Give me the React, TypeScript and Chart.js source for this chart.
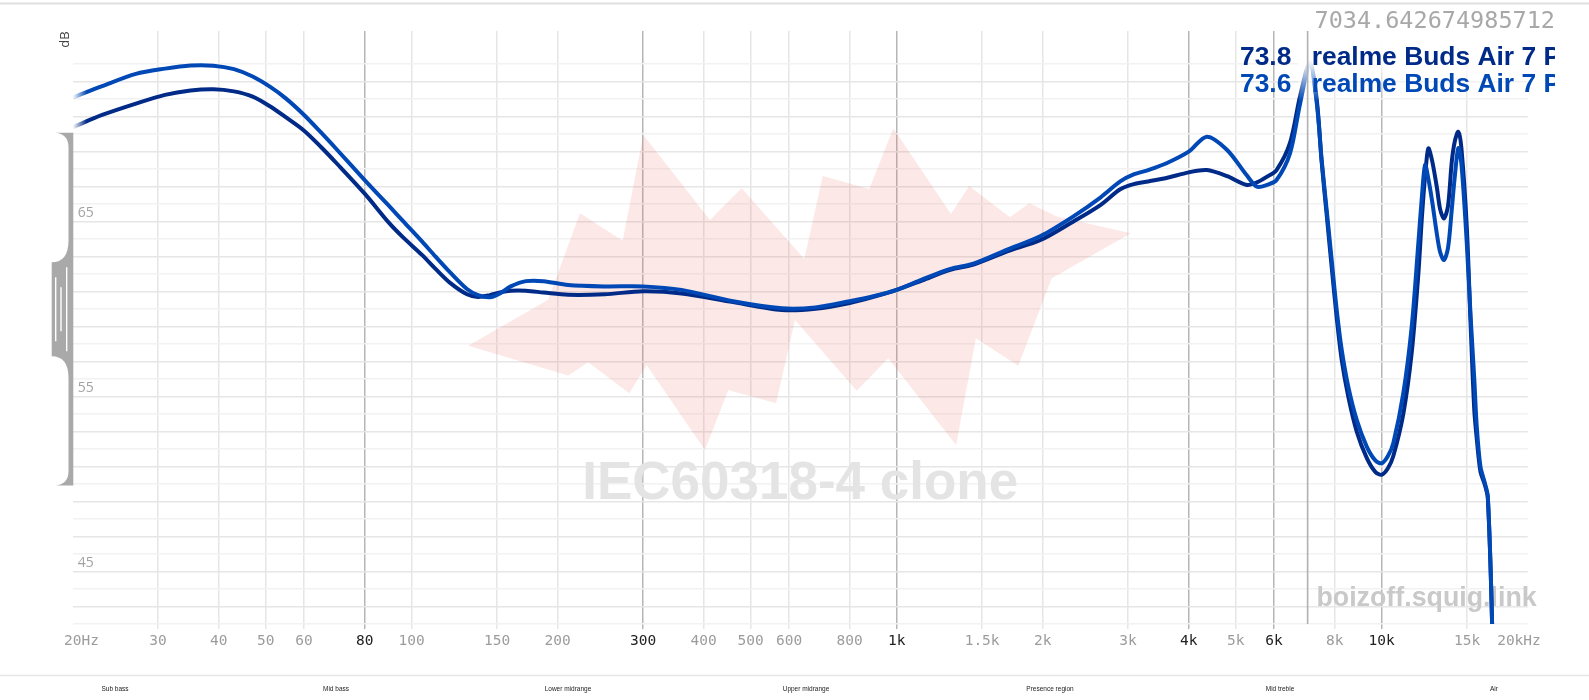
import { useEffect, useRef } from 'react';
import { Chart, registerables } from 'chart.js';

Chart.register(...registerables);

// ---- data ----
const FREQS = [
  20, 23, 27, 31, 35, 39, 43, 47, 51, 55,
  60, 65, 70, 80, 90, 96, 105, 112, 120, 130,
  137, 145, 152, 160, 172, 187, 210, 250, 300, 360,
  460, 580, 680, 800, 900, 1000, 1130, 1290, 1440, 1690,
  1980, 2310, 2630, 2890, 3080, 3300, 3600, 4000, 4360, 4800,
  5270, 5530, 5800, 6070, 6470, 6790, 7110, 7345, 7520, 7701,
  7886, 8077, 8271, 8533, 8882, 9314, 9700, 10000, 10300, 10566,
  11079, 11531, 11900, 12100, 12288, 12480, 12700, 12987, 13200, 13441,
  13700, 13944, 14150, 14386, 14600, 14977, 15258, 15520, 15703, 15980,
  16300, 16550, 16890, 17000,
];
const DARK_DB = [
  70.4, 71.1, 71.75, 72.25, 72.5, 72.57, 72.45, 72.15, 71.6, 70.97,
  70.2, 69.27, 68.34, 66.6, 64.9, 64.1, 63.1, 62.3, 61.5, 60.85,
  60.7, 60.8, 60.95, 61.05, 61.05, 60.95, 60.82, 60.85, 61.02, 60.9,
  60.4, 59.95, 60.02, 60.35, 60.72, 61.1, 61.65, 62.25, 62.55, 63.3,
  63.95, 65.0, 65.95, 66.85, 67.15, 67.3, 67.5, 67.82, 67.95, 67.6,
  67.1, 67.25, 67.57, 67.95, 69.5, 72.2, 74.1, 72.0, 68.4, 65.4,
  62.4, 59.5, 57.1, 55.0, 53.0, 51.5, 50.7, 50.53, 50.9, 51.6,
  54.0, 57.5, 62.0, 65.2, 67.6, 69.19, 68.5, 67.0, 65.7, 65.19,
  65.9, 68.4, 69.6, 70.14, 69.2, 64.71, 59.0, 54.24, 52.6, 50.71,
  50.0, 49.2, 42.0, 36,
];
const LIGHT_DB = [
  72.1, 72.75, 73.45, 73.75, 73.93, 73.92, 73.72, 73.3, 72.72, 72.05,
  71.1, 70.1, 69.14, 67.38, 65.87, 65.03, 63.87, 63.0, 62.1, 61.15,
  60.8, 60.68, 60.9, 61.3, 61.6, 61.6, 61.38, 61.3, 61.3, 61.1,
  60.45, 60.05, 60.1, 60.45, 60.75, 61.1, 61.7, 62.3, 62.6, 63.4,
  64.18, 65.29, 66.38, 67.3, 67.7, 67.95, 68.34, 69.0, 69.86, 69.1,
  67.65, 67.0, 67.1, 67.38, 68.9, 71.77, 74.0, 71.8, 68.53, 65.67,
  62.81, 59.95, 57.67, 55.57, 53.67, 52.14, 51.35, 51.19, 51.6, 52.34,
  55.19, 59.0, 63.77, 66.4, 68.24, 67.45, 66.2, 64.34, 63.25, 62.81,
  63.5, 65.67, 67.6, 69.2, 68.3, 63.77, 59.5, 56.0, 53.29, 51.0,
  50.1, 49.3, 42.05, 36,
];

const SERIES_LEVELS = ['73.8', '73.6'];
const SERIES_NAMES = ['realme Buds Air 7 Pro', 'realme Buds Air 7 Pro'];
const DARK = '#002a87';
const LIGHT = '#0048b5';

const X_TICKS = [20, 30, 40, 50, 60, 80, 100, 150, 200, 300, 400, 500, 600, 800, 1000, 1500, 2000, 3000, 4000, 5000, 6000, 8000, 10000, 15000, 20000];
const X_LABELS = ['20Hz', '30', '40', '50', '60', '80', '100', '150', '200', '300', '400', '500', '600', '800', '1k', '1.5k', '2k', '3k', '4k', '5k', '6k', '8k', '10k', '15k', '20kHz'];
const X_MAJOR = [80, 300, 1000, 4000, 6000, 10000];

const Y_GRID = [42, 43, 44, 45, 46, 47, 48, 49, 50, 51, 52, 53, 54, 55, 56, 57, 58, 59, 60, 61, 62, 63, 64, 65, 66, 67, 68, 69, 70, 71, 72, 73, 74];
const Y_LABELED = [45, 55, 65];

const CURSOR_FREQ = 7034.642674985712;

// watermark polygon (frequency, dB)
const WM_FREQ = [130.8, 191.2, 222.3, 272.3, 300.3, 412.1, 479.0, 645.0, 703.9, 878.1, 984.0, 1294, 1410, 1712, 1877, 2138, 3038, 2087, 1781, 1456, 1326, 960.6, 827.3, 617.1, 563.8, 449.5, 402.4, 305.1, 281.0, 231.2, 210.3];
const WM_DB = [57.91, 60.53, 65.48, 63.91, 69.95, 65.10, 66.91, 62.87, 67.61, 66.87, 70.34, 65.44, 67.04, 65.25, 66.05, 65.29, 64.34, 61.77, 56.77, 58.34, 52.24, 57.19, 55.34, 59.38, 54.62, 55.38, 51.95, 56.81, 55.19, 56.97, 56.20];

const BANDS = ['Sub bass', 'Mid bass', 'Lower midrange', 'Upper midrange', 'Presence region', 'Mid treble', 'Air'];
const BAND_CENTERS = [115, 336, 568, 806, 1050, 1280, 1494];

function rgba(hex: string, a: number) {
  const n = parseInt(hex.slice(1), 16);
  return `rgba(${(n >> 16) & 255},${(n >> 8) & 255},${n & 255},${a})`;
}

const fadeStroke = (color: string) => (c: any) => {
  const chart = c.chart;
  const a = chart.chartArea;
  if (!a) return color;
  const g = chart.ctx.createLinearGradient(a.left, 0, a.left + 14, 0);
  g.addColorStop(0, rgba(color, 0));
  g.addColorStop(1, color);
  return g;
};

const decor = {
  id: 'decor',
  beforeDatasetsDraw(chart: any) {
    const { ctx, chartArea: a, scales } = chart;
    const x = scales.x, y = scales.y;
    ctx.save();
    ctx.beginPath();
    ctx.rect(a.left, a.top, a.right - a.left, a.bottom - a.top);
    ctx.clip();
    ctx.beginPath();
    WM_FREQ.forEach((f, i) => {
      const px = x.getPixelForValue(f);
      const py = y.getPixelForValue(WM_DB[i]);
      if (i) ctx.lineTo(px, py); else ctx.moveTo(px, py);
    });
    ctx.closePath();
    ctx.fillStyle = 'rgba(235,100,90,0.15)';
    ctx.fill();

    ctx.textBaseline = 'alphabetic';
    ctx.font = 'bold 53px "Liberation Sans", Arial, sans-serif';
    ctx.fillStyle = '#e4e4e4';
    ctx.textAlign = 'center';
    ctx.fillText('IEC60318-4 clone', (a.left + a.right) / 2, 499);
    ctx.restore();

    ctx.save();
    ctx.font = 'bold 26.8px "Liberation Sans", Arial, sans-serif';
    ctx.fillStyle = '#c9c9c9';
    ctx.textAlign = 'right';
    ctx.textBaseline = 'alphabetic';
    ctx.fillText('boizoff.squig.link', a.right + 9, 606);
    ctx.restore();
  },
  afterDatasetsDraw(chart: any) {
    const { ctx, chartArea: a, scales } = chart;
    const x = scales.x, y = scales.y;
    ctx.save();

    // white fade behind labels
    const gx = 1298;
    const g = ctx.createLinearGradient(0, a.top, 0, 101);
    g.addColorStop(0, 'rgba(255,255,255,1)');
    g.addColorStop(0.45, 'rgba(255,255,255,0.95)');
    g.addColorStop(1, 'rgba(255,255,255,0)');
    ctx.fillStyle = g;
    ctx.fillRect(gx, a.top, 1560 - gx, 101 - a.top);

    // cursor line
    const cx = x.getPixelForValue(CURSOR_FREQ);
    ctx.strokeStyle = '#b0b0b0';
    ctx.lineWidth = 1.6;
    ctx.beginPath();
    ctx.moveTo(cx, a.top);
    ctx.lineTo(cx, a.bottom);
    ctx.stroke();

    // frequency readout
    ctx.font = '23.5px "DejaVu Sans Mono", monospace';
    ctx.fillStyle = '#a8a8a8';
    ctx.textAlign = 'right';
    ctx.textBaseline = 'alphabetic';
    ctx.fillText(String(CURSOR_FREQ), 1555, 28);

    // series labels
    ctx.save();
    ctx.beginPath();
    ctx.rect(0, 0, 1555, 700);
    ctx.clip();
    ctx.font = 'bold 26.4px "Liberation Sans", Arial, sans-serif';
    ctx.textAlign = 'left';
    const colors = [DARK, LIGHT];
    SERIES_LEVELS.forEach((lvl, i) => {
      const by = 64.5 + i * 27.3;
      ctx.fillStyle = colors[i];
      ctx.fillText(lvl, 1240, by);
      ctx.fillText(SERIES_NAMES[i], 1311.7, by);
    });
    ctx.restore();

    // y-scale handle (bracket)
    const T = y.getPixelForValue(70);
    const B = y.getPixelForValue(50);
    const M = y.getPixelForValue(60);
    const R = a.left + 0.6;
    const S = a.left - 4.2;
    const H = a.left - 17;
    const W = a.left - 21;
    ctx.fillStyle = '#a9a9a9';
    ctx.beginPath();
    ctx.moveTo(H, T - 1.5);
    ctx.lineTo(R, T - 1.5);
    ctx.lineTo(R, B + 1.5);
    ctx.lineTo(H, B + 1.5);
    ctx.quadraticCurveTo(S, B, S, B - 13);
    ctx.lineTo(S, M + 69);
    ctx.quadraticCurveTo(S, M + 47, W, M + 47);
    ctx.lineTo(W, M - 47);
    ctx.quadraticCurveTo(S, M - 47, S, M - 69);
    ctx.lineTo(S, T + 13);
    ctx.quadraticCurveTo(S, T, H, T - 1.5);
    ctx.closePath();
    ctx.fill();
    ctx.strokeStyle = '#ffffff';
    ctx.lineWidth = 1.4;
    const grips: [number, number][] = [[a.left - 17, 32], [a.left - 11.7, 22], [a.left - 6, 42]];
    grips.forEach(([gxp, h]) => {
      ctx.beginPath();
      ctx.moveTo(gxp, M - h);
      ctx.lineTo(gxp, M + h);
      ctx.stroke();
    });

    // dB label
    ctx.save();
    ctx.translate(65.5, 39.5);
    ctx.rotate(-Math.PI / 2);
    ctx.font = '13px "Open Sans", sans-serif';
    ctx.fillStyle = '#444';
    ctx.textAlign = 'center';
    ctx.textBaseline = 'middle';
    ctx.fillText('dB', 0, 0);
    ctx.restore();

    ctx.restore();
  },
  afterDraw(chart: any) {
    const { ctx, width } = chart;
    ctx.save();
    ctx.strokeStyle = '#e0e0e0';
    ctx.lineWidth = 2;
    ctx.beginPath();
    ctx.moveTo(0, 3.5);
    ctx.lineTo(width, 3.5);
    ctx.stroke();
    ctx.strokeStyle = '#e6e6e6';
    ctx.lineWidth = 1.5;
    ctx.beginPath();
    ctx.moveTo(0, 675.5);
    ctx.lineTo(width, 675.5);
    ctx.stroke();
    ctx.font = '6.5px "Liberation Sans", Arial, sans-serif';
    ctx.fillStyle = '#222';
    ctx.textAlign = 'center';
    ctx.textBaseline = 'middle';
    BANDS.forEach((b, i) => ctx.fillText(b, BAND_CENTERS[i], 689));
    ctx.restore();
  },
};

export default function App() {
  const ref = useRef<HTMLCanvasElement | null>(null);
  useEffect(() => {
    if (!ref.current) return;
    const chart = new Chart(ref.current, {
      type: 'line',
      data: {
        datasets: [
          {
            label: SERIES_NAMES[1],
            data: FREQS.map((f, i) => ({ x: f, y: LIGHT_DB[i] })),
            borderColor: fadeStroke(LIGHT),
            borderWidth: 4,
            pointRadius: 0,
            tension: 0.3,
            fill: false,
            clip: 0,
            order: 0,
          },
          {
            label: SERIES_NAMES[0],
            data: FREQS.map((f, i) => ({ x: f, y: DARK_DB[i] })),
            borderColor: fadeStroke(DARK),
            borderWidth: 4,
            pointRadius: 0,
            tension: 0.3,
            fill: false,
            clip: 0,
            order: 1,
          },
        ] as any,
      },
      options: {
        responsive: false,
        animation: false,
        events: [],
        layout: { padding: { top: 31, right: 61.3, left: 0, bottom: 0 } },
        plugins: { legend: { display: false }, tooltip: { enabled: false } },
        scales: {
          x: {
            type: 'logarithmic',
            min: 20,
            max: 20000,
            afterBuildTicks: (s: any) => {
              s.ticks = X_TICKS.map((v) => ({ value: v }));
            },
            afterFit: (s: any) => {
              s.height = 76;
            },
            grid: {
              color: (c: any) => {
                const v = c.tick?.value;
                if (v === 20 || v === 20000) return 'rgba(0,0,0,0)';
                return X_MAJOR.includes(v) ? '#b6b6b6' : '#e6e6e6';
              },
              lineWidth: 1.5,
              tickLength: 5,
              drawTicks: true,
            },
            border: { display: false },
            ticks: {
              autoSkip: false,
              maxRotation: 0,
              minRotation: 0,
              padding: 4,
              font: { family: '"DejaVu Sans Mono", monospace', size: 14.5 },
              color: (c: any) => (X_MAJOR.includes(c.tick?.value) ? '#222' : '#9c9c9c'),
              callback: (_v: any, i: number) =>
                i === 0 ? '  ' + X_LABELS[i] : i === X_LABELS.length - 1 ? X_LABELS[i] + '  ' : X_LABELS[i],
            },
          },
          y: {
            type: 'linear',
            min: 42,
            max: 75.9,
            afterBuildTicks: (s: any) => {
              s.ticks = Y_GRID.map((v) => ({ value: v }));
            },
            afterFit: (s: any) => {
              s.width = 72.7;
            },
            grid: {
              color: (c: any) => (c.tick?.value % 2 ? '#e6e6e6' : '#f2f2f2'),
              lineWidth: 1.5,
              drawTicks: false,
            },
            border: { display: false },
            ticks: {
              autoSkip: false,
              mirror: true,
              padding: 5,
              labelOffset: -8.7,
              font: { family: '"Open Sans", sans-serif', size: 14 },
              color: '#a3a3a3',
              callback: (v: any) => (Y_LABELED.includes(Number(v)) ? String(v) : ''),
            },
          },
        },
      } as any,
      plugins: [decor],
    });
    return () => chart.destroy();
  }, []);
  return (
    <div style={{ position: 'absolute', left: 0, top: 0, width: 1589, height: 700, background: '#fff' }}>
      <canvas ref={ref} width={1589} height={700} style={{ display: 'block' }} />
    </div>
  );
}
